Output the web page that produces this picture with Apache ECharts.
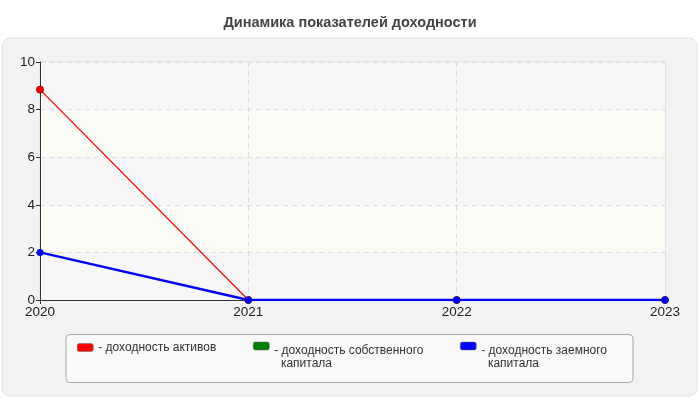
<!DOCTYPE html>
<html style="height: 100%">
<head>
    <meta charset="UTF-8">
    <title>Динамика показателей доходности</title>
    <script src="https://cdn.jsdelivr.net/npm/echarts@6/dist/echarts.min.js"></script>
</head>
<body style="height: 100%; margin: 0; background: #fff">
    <div id="main" style="width: 700px; height: 400px;"></div>
    <script>
        // данные
        var years = ['2020', '2021', '2022', '2023'];
        var assetsReturn = [8.84, 0, 0, 0];
        var equityReturn = [null, 0, 0, 0];
        var debtReturn = [2, 0, 0, 0];
        var yTicks = [0, 2, 4, 6, 8, 10];

        var names = ['- доходность активов', '- доходность собственного капитала', '- доходность заемного капитала'];
        var legendText = {};
        legendText[names[0]] = '{t|- доходность активов}';
        // пустая строка сверху, чтобы иконка стояла у первой строки текста
        legendText[names[1]] = '{g| }\n{t|- доходность собственного}\n{t|  капитала}';
        legendText[names[2]] = '{g| }\n{t|- доходность заемного}\n{t|  капитала}';

        var myChart = echarts.init(document.getElementById('main'));

        function makeLegend(name, left, top, color) {
            return {
                left: left,
                top: top,
                padding: 0,
                itemWidth: 16,
                itemHeight: 8,
                itemGap: 0,
                icon: 'roundRect',
                data: [{ name: name, itemStyle: { color: color, borderColor: '#666', borderWidth: 0.5 } }],
                selectedMode: false,
                formatter: function (n) { return legendText[n]; },
                textStyle: {
                    fontFamily: 'Liberation Sans, Arial',
                    fontSize: 12,
                    color: '#333',
                    rich: {
                        g: { fontSize: 12, lineHeight: 22 },
                        t: { fontSize: 12, lineHeight: 13, color: '#333' }
                    }
                }
            };
        }

        var option = {
            animation: false,
            textStyle: { fontFamily: 'Liberation Sans, Arial' },
            title: {
                text: 'Динамика показателей доходности',
                left: 'center',
                top: 10,
                textStyle: { fontSize: 14.5, fontWeight: 'bold', color: '#444' }
            },
            graphic: [
                {
                    type: 'rect', z: -10,
                    shape: { x: 2, y: 38, width: 695, height: 358, r: 8 },
                    style: { fill: '#f3f3f3', stroke: '#e2e2e2', lineWidth: 1 }
                },
                {
                    type: 'rect', z: -5,
                    shape: { x: 66, y: 334.5, width: 567, height: 48, r: 4 },
                    style: { fill: '#f9f9f9', stroke: '#a8a8a8', lineWidth: 1 }
                }
            ],
            legend: [
                makeLegend(names[0], 77, 341.5, '#ff0000'),
                makeLegend(names[1], 253, 327, '#008000'),
                makeLegend(names[2], 460, 327, '#0000ff')
            ],
            grid: {
                left: 40,
                right: 35,
                top: 62,
                bottom: 100,
                show: true,
                borderColor: '#dddddd',
                borderWidth: 1
            },
            xAxis: {
                type: 'category',
                boundaryGap: false,
                data: years,
                axisLine: { lineStyle: { color: '#333', width: 1 } },
                axisTick: { show: true, length: 4, lineStyle: { color: '#333' } },
                axisLabel: { color: '#222', fontSize: 13.5, margin: 5 },
                splitLine: { show: true, lineStyle: { color: '#dddddd', type: [5, 4] } }
            },
            yAxis: {
                type: 'value',
                min: yTicks[0],
                max: yTicks[yTicks.length - 1],
                interval: 2,
                axisLine: { show: true, lineStyle: { color: '#333', width: 1 } },
                axisTick: { show: true, length: 4, lineStyle: { color: '#333' } },
                axisLabel: { color: '#222', fontSize: 13.5, margin: 5 },
                splitLine: { show: true, lineStyle: { color: '#dddddd', type: [5, 4] } },
                splitArea: { show: true, areaStyle: { color: ['#f7f7f7', '#fbfcf5'] } }
            },
            series: [
                {
                    name: names[0],
                    type: 'line',
                    data: assetsReturn,
                    symbol: 'circle',
                    symbolSize: 7,
                    itemStyle: { color: '#ff0000', borderColor: '#a00000', borderWidth: 1 },
                    lineStyle: { color: '#ff0000', width: 1.2 }
                },
                {
                    name: names[1],
                    type: 'line',
                    data: equityReturn,
                    symbol: 'circle',
                    symbolSize: 7,
                    itemStyle: { color: '#008000' },
                    lineStyle: { color: '#008000', width: 2 }
                },
                {
                    name: names[2],
                    type: 'line',
                    data: debtReturn,
                    symbol: 'circle',
                    symbolSize: 7,
                    itemStyle: { color: '#0000ff' },
                    lineStyle: { color: '#0000ff', width: 2.4 }
                }
            ]
        };

        myChart.setOption(option);
    </script>
</body>
</html>
